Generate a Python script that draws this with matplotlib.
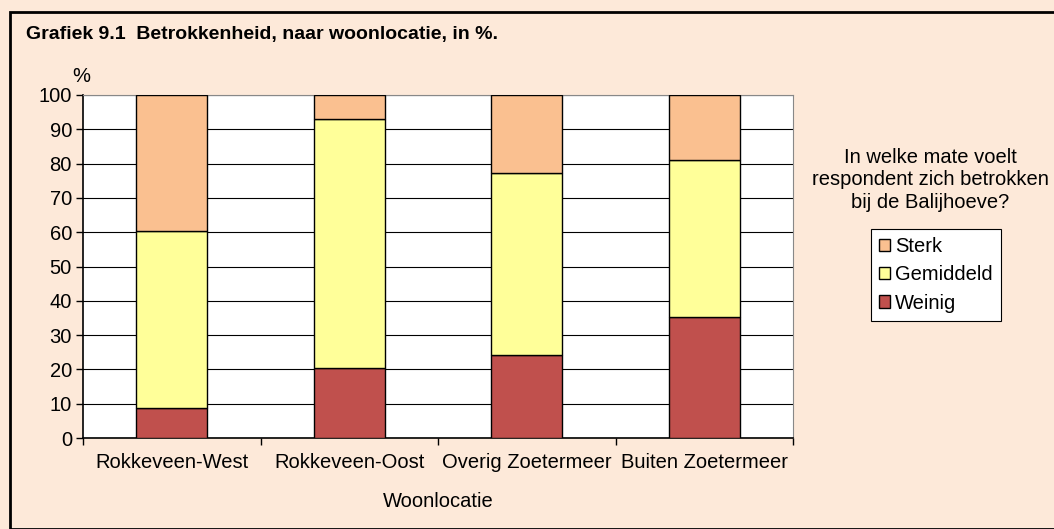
import matplotlib
matplotlib.use("Agg")
import matplotlib.pyplot as plt
import numpy as np
from matplotlib.patches import Rectangle

plt.rcParams['font.family'] = ['Liberation Sans', 'DejaVu Sans']

locaties = ["Rokkeveen-West", "Rokkeveen-Oost", "Overig Zoetermeer", "Buiten Zoetermeer"]
weinig = [8.7, 20.4, 24.2, 35.3]
gemiddeld = [51.6, 72.6, 53.1, 45.7]
sterk = [39.7, 7.0, 22.7, 19.0]

fs = 14.5

fig = plt.figure(figsize=(10.54, 5.29), dpi=100)
fig.patch.set_facecolor('#FDE9D9')
fig.add_artist(Rectangle((10/1054, 0), 1.0, 1 - 12/529, transform=fig.transFigure,
                         fill=False, edgecolor='black', linewidth=2))

ax = fig.add_axes([83/1054, 1 - 438/529, 710/1054, 343/529])
ax.set_facecolor('white')

x = np.arange(len(locaties))
w = 0.4
bottom2 = np.array(weinig)
bottom3 = bottom2 + np.array(gemiddeld)
ax.bar(x, weinig, w, color='#C0504D', edgecolor='black', linewidth=1, label='Weinig', zorder=3)
ax.bar(x, gemiddeld, w, bottom=bottom2, color='#FFFF99', edgecolor='black', linewidth=1, label='Gemiddeld', zorder=3)
ax.bar(x, sterk, w, bottom=bottom3, color='#FAC090', edgecolor='black', linewidth=1, label='Sterk', zorder=3)

ax.set_xlim(-0.5, len(locaties) - 0.5)
ax.set_ylim(0, 100)
ax.set_yticks(range(0, 101, 10))
ax.yaxis.grid(True, color='black', linewidth=0.8, zorder=0)
ax.set_xticks(x)
ax.set_xticklabels(locaties, fontsize=fs)
ax.tick_params(axis='x', length=0, pad=11)
ax.set_xticks(np.arange(-0.5, len(locaties)), minor=True)
ax.tick_params(axis='x', which='minor', length=5, width=1)
ax.tick_params(axis='y', labelsize=fs, length=5, width=1, pad=3)
for s in ['top', 'right']:
    ax.spines[s].set_color('#888888')
ax.spines['left'].set_linewidth(1.2)
ax.spines['bottom'].set_linewidth(1.2)

ax.set_xlabel('Woonlocatie', fontsize=fs, labelpad=14)
fig.text(72/1054, 1 - 76/529, '%', fontsize=fs, ha='left', va='center')

fig.text(26/1054, 1 - 35/529, 'Grafiek 9.1  Betrokkenheid, naar woonlocatie, in %.',
         fontsize=14, fontweight='bold', ha='left', va='center')

fig.text(930/1054, 1 - 180/529,
         'In welke mate voelt\nrespondent zich betrokken\nbij de Balijhoeve?',
         fontsize=fs, ha='center', va='center', linespacing=1.22)

h, l = ax.get_legend_handles_labels()
leg = fig.legend(h[::-1], l[::-1], loc='center', bbox_to_anchor=(936/1054, 1 - 275/529),
                 fontsize=fs, frameon=True, fancybox=False, edgecolor='black', framealpha=1,
                 handlelength=0.55, handleheight=0.55, handletextpad=0.25,
                 labelspacing=0.45, borderpad=0.4, borderaxespad=0)
leg.get_frame().set_linewidth(0.8)

fig.savefig('out.png', dpi=100, facecolor=fig.get_facecolor())
